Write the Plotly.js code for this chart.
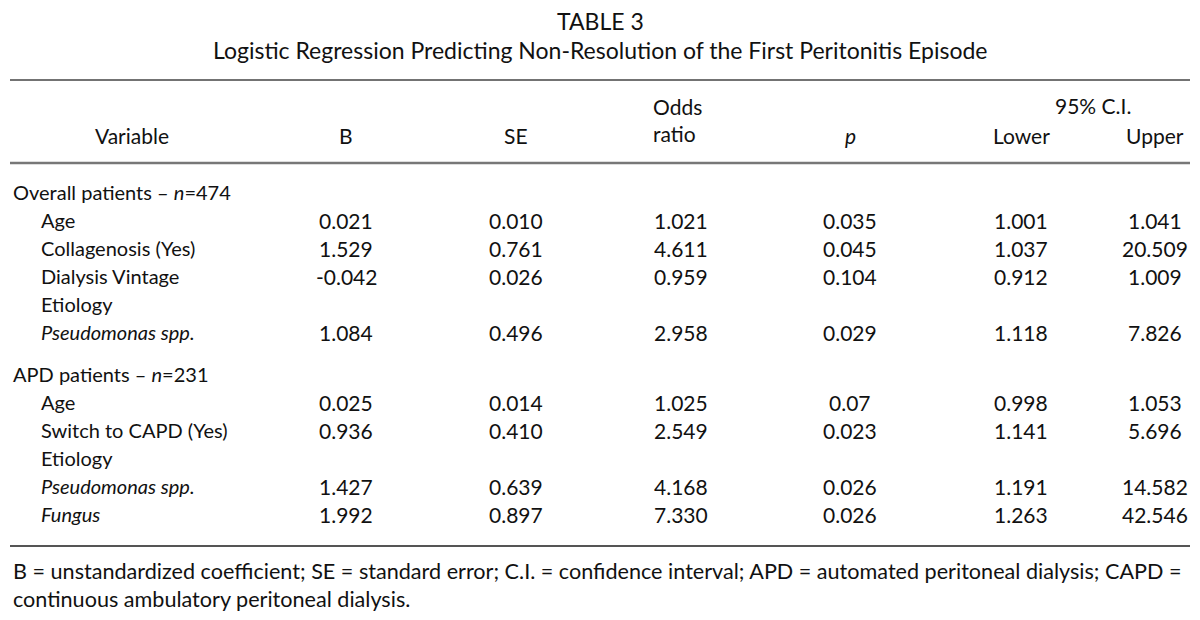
<!DOCTYPE html>
<html>
<head>
<meta charset="utf-8">
<script src="https://cdn.plot.ly/plotly-3.0.1.min.js"></script>
<style>html,body{margin:0;padding:0;background:#fff;}#chart{width:1200px;height:620px;}</style>
</head>
<body>
<div id="chart"></div>
<script>
// ---- data ----
const tableTitle = "TABLE 3";
const tableSubtitle = "Logistic Regression Predicting Non-Resolution of the First Peritonitis Episode";
const columnHeaders = ["Variable", "B", "SE", "Odds<br>ratio", "<i>p</i>", "Lower", "Upper"];
const ciHeader = "95% C.I.";
const groupLabels = ["Overall patients – <i>n</i>=474", "APD patients – <i>n</i>=231"];

const overallVariables = ["Age", "Collagenosis (Yes)", "Dialysis Vintage", "Etiology", "<i>Pseudomonas spp.</i>"];
const overallB      = ["0.021", "1.529", "-0.042", "", "1.084"];
const overallSE     = ["0.010", "0.761", "0.026", "", "0.496"];
const overallOR     = ["1.021", "4.611", "0.959", "", "2.958"];
const overallP      = ["0.035", "0.045", "0.104", "", "0.029"];
const overallLower  = ["1.001", "1.037", "0.912", "", "1.118"];
const overallUpper  = ["1.041", "20.509", "1.009", "", "7.826"];

const apdVariables = ["Age", "Switch to CAPD (Yes)", "Etiology", "<i>Pseudomonas spp.</i>", "<i>Fungus</i>"];
const apdB      = ["0.025", "0.936", "", "1.427", "1.992"];
const apdSE     = ["0.014", "0.410", "", "0.639", "0.897"];
const apdOR     = ["1.025", "2.549", "", "4.168", "7.330"];
const apdP      = ["0.07", "0.023", "", "0.026", "0.026"];
const apdLower  = ["0.998", "1.141", "", "1.191", "1.263"];
const apdUpper  = ["1.053", "5.696", "", "14.582", "42.546"];

const footnote = "B = unstandardized coefficient; SE = standard error; C.I. = confidence interval; APD = automated peritoneal dialysis; CAPD =<br>continuous ambulatory peritoneal dialysis.";

// ---- layout ----
const FONT = "Lato, 'Noto Sans', sans-serif";
const FS = 21;      // numbers and headers
const FS_LABEL = 20; // row labels
const colX = [132, 346, 516, 681, 850, 1021, 1155];
const labelX = 11, indentX = 39;
const rowH = 28;
const groups = [
  {label: groupLabels[0], y: 192, vars: overallVariables, cols: [overallB, overallSE, overallOR, overallP, overallLower, overallUpper]},
  {label: groupLabels[1], y: 374, vars: apdVariables, cols: [apdB, apdSE, apdOR, apdP, apdLower, apdUpper]}
];

const ann = [];
function t(text, x, y, opts, size) {
  ann.push(Object.assign({
    text: text, x: x, y: y, xref: "x", yref: "y", showarrow: false,
    xanchor: "center", yanchor: "middle",
    font: {family: FONT, size: size || FS, color: "#111"}
  }, opts || {}));
}

t(tableTitle, 600, 21, {}, 23);
t(tableSubtitle, 600, 50, {}, 23);
// headers
t(columnHeaders[0], colX[0], 135);
t(columnHeaders[1], colX[1], 135);
t(columnHeaders[2], colX[2], 135);
t(columnHeaders[3], colX[3] - 4, 120, {align: "left"});
t(columnHeaders[4], colX[4], 135);
t(ciHeader, 1093, 105);
t(columnHeaders[5], colX[5], 135);
t(columnHeaders[6], colX[6], 135);

groups.forEach(g => {
  t(g.label, labelX, g.y, {xanchor: "left"}, FS_LABEL);
  g.vars.forEach((v, i) => {
    const y = g.y + rowH * (i + 1);
    t(v, indentX, y, {xanchor: "left"}, FS_LABEL);
    g.cols.forEach((col, c) => {
      if (col[i] !== "") t(col[i], colX[c + 1], y);
    });
  });
});

t(footnote, labelX, 585, {xanchor: "left", align: "left"}, 21.6);

const shapes = [
  {type: "line", xref: "x", yref: "y", x0: 10, x1: 1190, y0: 80, y1: 80, line: {color: "#444", width: 1.6}},
  {type: "line", xref: "x", yref: "y", x0: 10, x1: 1190, y0: 163, y1: 163, line: {color: "#777", width: 2.6}},
  {type: "line", xref: "x", yref: "y", x0: 10, x1: 1190, y0: 546, y1: 546, line: {color: "#555", width: 1.8}}
];

Plotly.newPlot("chart", [], {
  width: 1200, height: 620,
  margin: {l: 0, r: 0, t: 0, b: 0},
  paper_bgcolor: "#fff", plot_bgcolor: "#fff",
  xaxis: {range: [0, 1200], visible: false, fixedrange: true},
  yaxis: {range: [620, 0], visible: false, fixedrange: true},
  annotations: ann,
  shapes: shapes,
  showlegend: false
}, {staticPlot: true});
</script>
</body>
</html>
